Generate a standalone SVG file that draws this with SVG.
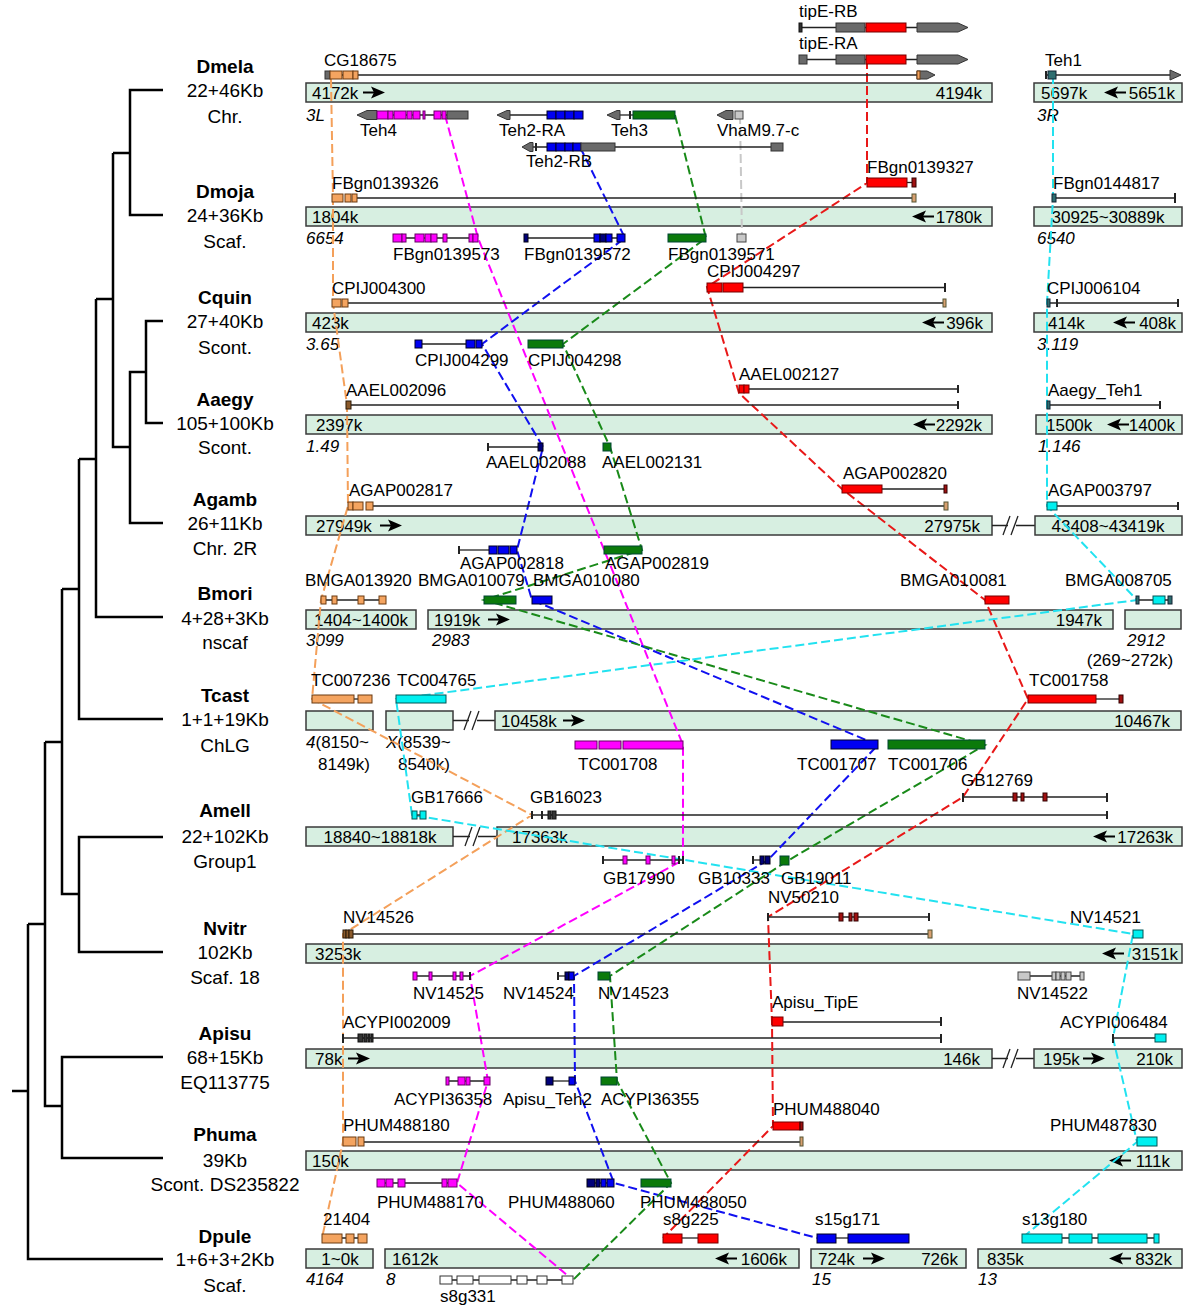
<svg xmlns="http://www.w3.org/2000/svg" width="1200" height="1310" viewBox="0 0 1200 1310">
<style>
.t{font-family:"Liberation Sans",Arial,sans-serif;font-size:17px;fill:#000}
.it{font-style:italic}
.e{text-anchor:end}
.m{text-anchor:middle}
.sp{font-size:19px;text-anchor:middle}
.b{font-weight:bold}
.bar{fill:#d7efe1;stroke:#3a3a3a;stroke-width:1.5}
.ln{stroke:#222;stroke-width:1.3;fill:none}
.tk{stroke:#222;stroke-width:2;fill:none}
.tree{stroke:#000;stroke-width:2.5;fill:none}
rect,polygon{stroke-width:1}
.gy{fill:#6a6a6a;stroke:#333}
.rd{fill:#f00;stroke:#700}
.gn{fill:#0b7a0b;stroke:#043}
.bl{fill:#0000f2;stroke:#002}
.nv{fill:#00007a;stroke:#001}
.mg{fill:#f0f;stroke:#606}
.or{fill:#f4a460;stroke:#6b3a10}
.cy{fill:#00f0f0;stroke:#055}
.dt{fill:#2e6e70;stroke:#123}
.dr{fill:#a01010;stroke:#300}
.br{fill:#8b5a2b;stroke:#2a1a08}
.tn{fill:#d8a070;stroke:#553}
.lg{fill:#c8c8c8;stroke:#444}
.wh{fill:#fff;stroke:#333}
.dk{fill:#333;stroke:#111}
.c{fill:none;stroke-width:2;stroke-dasharray:9,4}
</style>
<defs>
<g id="ra"><path d="M0,0 H14" stroke="#000" stroke-width="2"/><path d="M22,0 L8,-6 L11,0 L8,6 Z" fill="#000"/></g>
<g id="la"><path d="M8,0 H22" stroke="#000" stroke-width="2"/><path d="M0,0 L14,-6 L11,0 L14,6 Z" fill="#000"/></g>
</defs>

<g id="tree">
<path class="tree" d="M163,90 H130 V215 H163 M130,153 H113 M113,153 V447 H130 M163,321 H146 V423 H163 M146,372 H130 V523 H163 M96,299 H113 M96,299 V617 H163 M79,459 H96 M79,459 V719 H163 M62,589 H79 M62,589 V894 H79 M163,837 H79 V952 H163 M45,742 H62 M45,742 V1106 H62 M163,1057 H62 V1158 H163 M28,924 H45 M28,924 V1259 H163 M12,1091 H28"/>
</g>

<g id="species">
<text class="t sp b" x="225" y="73">Dmela</text><text class="t sp" x="225" y="97">22+46Kb</text><text class="t sp" x="225" y="123">Chr.</text>
<text class="t sp b" x="225" y="198">Dmoja</text><text class="t sp" x="225" y="222">24+36Kb</text><text class="t sp" x="225" y="248">Scaf.</text>
<text class="t sp b" x="225" y="304">Cquin</text><text class="t sp" x="225" y="328">27+40Kb</text><text class="t sp" x="225" y="354">Scont.</text>
<text class="t sp b" x="225" y="406">Aaegy</text><text class="t sp" x="225" y="430">105+100Kb</text><text class="t sp" x="225" y="454">Scont.</text>
<text class="t sp b" x="225" y="506">Agamb</text><text class="t sp" x="225" y="530">26+11Kb</text><text class="t sp" x="225" y="555">Chr. 2R</text>
<text class="t sp b" x="225" y="600">Bmori</text><text class="t sp" x="225" y="625">4+28+3Kb</text><text class="t sp" x="225" y="649">nscaf</text>
<text class="t sp b" x="225" y="702">Tcast</text><text class="t sp" x="225" y="726">1+1+19Kb</text><text class="t sp" x="225" y="752">ChLG</text>
<text class="t sp b" x="225" y="817">Amell</text><text class="t sp" x="225" y="843">22+102Kb</text><text class="t sp" x="225" y="868">Group1</text>
<text class="t sp b" x="225" y="935">Nvitr</text><text class="t sp" x="225" y="959">102Kb</text><text class="t sp" x="225" y="984">Scaf. 18</text>
<text class="t sp b" x="225" y="1040">Apisu</text><text class="t sp" x="225" y="1064">68+15Kb</text><text class="t sp" x="225" y="1089">EQ113775</text>
<text class="t sp b" x="225" y="1141">Phuma</text><text class="t sp" x="225" y="1167">39Kb</text><text class="t sp" x="225" y="1191">Scont. DS235822</text>
<text class="t sp b" x="225" y="1243">Dpule</text><text class="t sp" x="225" y="1266">1+6+3+2Kb</text><text class="t sp" x="225" y="1292">Scaf.</text>
</g>

<g id="bars">
<rect class="bar" x="306" y="83" width="686" height="19"/><text class="t" x="312" y="99">4172k</text><use href="#ra" x="363" y="92.5"/><text class="t e" x="982" y="99">4194k</text>
<rect class="bar" x="1034" y="83" width="148" height="19"/><text class="t" x="1041" y="99">5697k</text><use href="#la" x="1104" y="92.5"/><text class="t e" x="1175" y="99">5651k</text>
<text class="t it" x="306" y="121">3L</text><text class="t it" x="1037" y="121">3R</text>

<rect class="bar" x="306" y="207" width="686" height="19"/><text class="t" x="312" y="223">1804k</text><use href="#la" x="912" y="216.5"/><text class="t e" x="982" y="223">1780k</text>
<rect class="bar" x="1034" y="207" width="148" height="19"/><text class="t m" x="1108" y="223">30925~30889k</text>
<text class="t it" x="306" y="244">6654</text><text class="t it" x="1037" y="244">6540</text>

<rect class="bar" x="306" y="313" width="686" height="19"/><text class="t" x="312" y="329">423k</text><use href="#la" x="922" y="322.5"/><text class="t e" x="983" y="329">396k</text>
<rect class="bar" x="1034" y="313" width="148" height="19"/><text class="t" x="1048" y="329">414k</text><use href="#la" x="1113" y="322.5"/><text class="t e" x="1176" y="329">408k</text>
<text class="t it" x="306" y="350">3.65</text><text class="t it" x="1037" y="350">3.119</text>

<rect class="bar" x="306" y="415" width="686" height="19"/><text class="t" x="316" y="431">2397k</text><use href="#la" x="913" y="424.5"/><text class="t e" x="982" y="431">2292k</text>
<rect class="bar" x="1036" y="415" width="146" height="19"/><text class="t" x="1046" y="431">1500k</text><use href="#la" x="1107" y="424.5"/><text class="t e" x="1175" y="431">1400k</text>
<text class="t it" x="306" y="452">1.49</text><text class="t it" x="1038" y="452">1.146</text>

<rect class="bar" x="306" y="516" width="686" height="19"/><text class="t" x="316" y="532">27949k</text><use href="#ra" x="380" y="525.5"/><text class="t e" x="980" y="532">27975k</text>
<path class="ln" d="M992,525.5 H1008 M1016,525.5 H1035 M1003,535 L1010,516 M1011,535 L1018,516"/>
<rect class="bar" x="1035" y="516" width="147" height="19"/><text class="t m" x="1108" y="532">43408~43419k</text>

<rect class="bar" x="306" y="610" width="110" height="19"/><text class="t m" x="361" y="626">1404~1400k</text>
<rect class="bar" x="428" y="610" width="685" height="19"/><text class="t" x="434" y="626">1919k</text><use href="#ra" x="488" y="619.5"/><text class="t e" x="1102" y="626">1947k</text>
<rect class="bar" x="1125" y="610" width="56" height="19"/>
<text class="t it" x="306" y="646">3099</text><text class="t it" x="432" y="646">2983</text><text class="t it m" x="1146" y="646">2912</text><text class="t m" x="1130" y="666">(269~272k)</text>

<rect class="bar" x="306" y="711" width="67" height="19"/><rect class="bar" x="386" y="711" width="67" height="19"/>
<path class="ln" d="M453,720.5 H469 M477,720.5 H495 M464,730 L471,711 M472,730 L479,711"/>
<rect class="bar" x="495" y="711" width="686" height="19"/><text class="t" x="501" y="727">10458k</text><use href="#ra" x="563" y="720.5"/><text class="t e" x="1170" y="727">10467k</text>
<text class="t" x="306" y="748"><tspan class="it">4</tspan>(8150~</text><text class="t" x="318" y="770">8149k)</text>
<text class="t" x="386" y="748"><tspan class="it">X</tspan>(8539~</text><text class="t" x="398" y="770">8540k)</text>

<rect class="bar" x="306" y="827" width="147" height="19"/><text class="t m" x="380" y="843">18840~18818k</text>
<path class="ln" d="M453,836.5 H470 M478,836.5 H497 M465,846 L472,827 M473,846 L480,827"/>
<rect class="bar" x="497" y="827" width="685" height="19"/><text class="t" x="512" y="843">17363k</text><use href="#la" x="1093" y="836.5"/><text class="t e" x="1173" y="843">17263k</text>

<rect class="bar" x="306" y="944" width="876" height="19"/><text class="t" x="315" y="960">3253k</text><use href="#la" x="1102" y="953.5"/><text class="t e" x="1178" y="960">3151k</text>

<rect class="bar" x="306" y="1049" width="686" height="19"/><text class="t" x="315" y="1065">78k</text><use href="#ra" x="348" y="1058.5"/><text class="t e" x="980" y="1065">146k</text>
<path class="ln" d="M992,1058.5 H1008 M1016,1058.5 H1034 M1003,1068 L1010,1049 M1011,1068 L1018,1049"/>
<rect class="bar" x="1034" y="1049" width="148" height="19"/><text class="t" x="1043" y="1065">195k</text><use href="#ra" x="1083" y="1058.5"/><text class="t e" x="1173" y="1065">210k</text>

<rect class="bar" x="306" y="1151" width="876" height="19"/><text class="t" x="312" y="1167">150k</text><use href="#la" x="1109" y="1160.5"/><text class="t e" x="1170" y="1167">111k</text>

<rect class="bar" x="306" y="1249" width="67" height="19"/><text class="t m" x="340" y="1265">1~0k</text>
<rect class="bar" x="385" y="1249" width="414" height="19"/><text class="t" x="392" y="1265">1612k</text><use href="#la" x="715" y="1258.5"/><text class="t e" x="787" y="1265">1606k</text>
<rect class="bar" x="811" y="1249" width="155" height="19"/><text class="t" x="818" y="1265">724k</text><use href="#ra" x="863" y="1258.5"/><text class="t e" x="958" y="1265">726k</text>
<rect class="bar" x="978" y="1249" width="204" height="19"/><text class="t" x="987" y="1265">835k</text><use href="#la" x="1109" y="1258.5"/><text class="t e" x="1172" y="1265">832k</text>
<text class="t it" x="306" y="1285">4164</text><text class="t it" x="386" y="1285">8</text><text class="t it" x="812" y="1285">15</text><text class="t it" x="978" y="1285">13</text>
</g>

<g id="connectors">
<polyline class="c" stroke="#c8c8c8" points="740,115 742,238"/>
<polyline class="c" stroke="#f4a05a" points="331,79 333,197 333,303 347,405 348,506 321,600 312,699 532,815 343,934 343,1038 343,1142 322,1238"/>
<polyline class="c" stroke="#f0f" points="445,115 478,238 683,745 683,860 470,976 488,1081 457,1183 573,1280"/>
<polyline class="c" stroke="#1010f0" points="580,147 625,238 482,344 543,447 517,550 532,600 878,745 768,860 574,976 575,1081 614,1183 817,1238"/>
<polyline class="c" stroke="#198a19" points="675,115 706,238 563,344 610,447 642,550 484,600 985,745 789,860 610,976 617,1081 671,1183 573,1280"/>
<polyline class="c" stroke="#e81818" points="867,60 867,183 707,287 739,393 842,489 985,600 1028,699 963,797 768,917 772,1022 773,1126 663,1238"/>
<polyline class="c" stroke="#22e2f0" points="1053,75 1053,198 1047,303 1047,405 1047,506 1137,600 396,699 412,815 1133,934 1113,1038 1137,1142 1022,1238"/>
</g>

<g id="tipE-RB"><text class="t" x="799" y="17">tipE-RB</text><path class="ln" d="M802,27.5 H917"/><rect class="dk" x="799" y="23" width="3" height="9"/><rect class="gy" x="836" y="23" width="29" height="9"/><rect class="rd" x="866" y="23" width="40" height="9"/><polygon class="gy" points="917,23 958,23 968,27.5 958,32 917,32"/></g>
<g id="tipE-RA"><text class="t" x="799" y="49">tipE-RA</text><path class="ln" d="M807,59.5 H917"/><rect class="gy" x="799" y="55" width="8" height="9"/><rect class="gy" x="836" y="55" width="29" height="9"/><rect class="rd" x="866" y="55" width="40" height="9"/><polygon class="gy" points="917,55 958,55 968,59.5 958,64 917,64"/></g>
<g id="CG18675"><text class="t" x="324" y="66">CG18675</text><path class="ln" d="M330,75 H917"/><rect class="gy" x="325" y="71" width="5" height="8"/><rect class="or" x="330" y="71" width="12" height="8"/><rect class="or" x="343" y="71" width="10" height="8"/><rect class="or" x="353" y="71" width="5" height="8"/><polygon class="gy" points="917,71 927,71 935,75 927,79 917,79"/><rect class="or" x="917" y="71" width="3" height="8"/></g>
<g id="Teh1"><text class="t" x="1045" y="66">Teh1</text><path class="ln" d="M1046,75 H1172"/><path class="tk" d="M1046,71 V79"/><rect class="dt" x="1048" y="71" width="8" height="8"/><polygon class="gy" points="1170,70 1181,75 1170,80"/></g>
<g id="Teh4"><text class="t" x="360" y="136">Teh4</text><path class="ln" d="M377,115 H468"/><polygon class="gy" points="357,115 367,110.5 377,110.5 377,119.5 367,119.5"/><rect class="mg" x="377" y="111" width="11" height="8"/><rect class="mg" x="388" y="111" width="5" height="8"/><rect class="mg" x="394" y="111" width="12" height="8"/><rect class="mg" x="407" y="111" width="5" height="8"/><rect class="mg" x="413" y="111" width="7" height="8"/><rect class="mg" x="423" y="111" width="2" height="8"/><rect class="mg" x="434" y="111" width="7" height="8"/><rect class="mg" x="442" y="111" width="4" height="8"/><rect class="gy" x="447" y="111" width="21" height="8"/></g>
<g id="Teh2-RA"><text class="t" x="499" y="136">Teh2-RA</text><path class="ln" d="M510,115 H547"/><polygon class="gy" points="497,115 507,110.5 510,110.5 510,119.5 507,119.5"/><rect class="bl" x="547" y="111" width="9" height="8"/><rect class="bl" x="556" y="111" width="9" height="8"/><rect class="bl" x="565" y="111" width="9" height="8"/><rect class="bl" x="574" y="111" width="9" height="8"/></g>
<g id="Teh3"><text class="t" x="611" y="136">Teh3</text><path class="ln" d="M620,115 H633"/><polygon class="gy" points="607,115 617,110.5 620,110.5 620,119.5 617,119.5"/><path class="tk" d="M630,111 V119"/><rect class="gn" x="633" y="111" width="42" height="8"/></g>
<g id="VhaM9.7-c"><text class="t" x="717" y="136">VhaM9.7-c</text><polygon class="gy" points="717,115 726,110.5 733,110.5 733,119.5 726,119.5"/><rect class="lg" x="735" y="111" width="8" height="8"/></g>
<g id="Teh2-RB"><text class="t" x="526" y="167">Teh2-RB</text><path class="ln" d="M533,147 H771"/><polygon class="gy" points="522,147 530,142.5 533,142.5 533,151.5 530,151.5"/><path class="tk" d="M536,143 V151"/><rect class="bl" x="547" y="143" width="9" height="8"/><rect class="bl" x="556" y="143" width="9" height="8"/><rect class="bl" x="565" y="143" width="8" height="8"/><rect class="bl" x="573" y="143" width="8" height="8"/><rect class="gy" x="581" y="143" width="34" height="8"/><rect class="gy" x="771" y="143" width="12" height="8"/></g>

<g id="FBgn0139326"><text class="t" x="332" y="189">FBgn0139326</text><path class="ln" d="M357,198 H913"/><rect class="or" x="332" y="194" width="11" height="8"/><rect class="or" x="345" y="194" width="6" height="8"/><rect class="or" x="352" y="194" width="5" height="8"/><rect class="tn" x="912" y="194" width="4" height="8"/></g>
<g id="FBgn0139327"><text class="t" x="867" y="173">FBgn0139327</text><path class="ln" d="M907,182.5 H912"/><rect class="rd" x="867" y="178" width="40" height="9"/><rect class="dr" x="912" y="178" width="4" height="9"/></g>
<g id="FBgn0144817"><text class="t" x="1053" y="189">FBgn0144817</text><path class="ln" d="M1056,198 H1175"/><rect class="dt" x="1052" y="194" width="4" height="8"/><path class="tk" d="M1175,193 V203"/></g>
<g id="FBgn0139573"><text class="t" x="393" y="260">FBgn0139573</text><path class="ln" d="M393,238 H478"/><rect class="mg" x="393" y="234" width="9" height="8"/><rect class="mg" x="402" y="234" width="4" height="8"/><rect class="mg" x="415" y="234" width="9" height="8"/><rect class="mg" x="425" y="234" width="6" height="8"/><rect class="mg" x="431" y="234" width="6" height="8"/><rect class="mg" x="443" y="234" width="4" height="8"/><rect class="mg" x="469" y="234" width="4" height="8"/><rect class="mg" x="473" y="234" width="5" height="8"/></g>
<g id="FBgn0139572"><text class="t" x="524" y="260">FBgn0139572</text><path class="ln" d="M524,238 H625"/><rect class="nv" x="524" y="234" width="4" height="8"/><rect class="bl" x="594" y="234" width="6" height="8"/><rect class="nv" x="600" y="234" width="6" height="8"/><rect class="bl" x="606" y="234" width="6" height="8"/><rect class="bl" x="617" y="234" width="8" height="8"/></g>
<g id="FBgn0139571"><text class="t" x="668" y="260">FBgn0139571</text><rect class="gn" x="668" y="234" width="38" height="8"/><rect class="lg" x="737" y="234" width="9" height="8"/></g>

<g id="CPIJ004300"><text class="t" x="332" y="294">CPIJ004300</text><path class="ln" d="M348,303 H943"/><rect class="or" x="332" y="299" width="9" height="8"/><rect class="or" x="342" y="299" width="6" height="8"/><rect class="tn" x="943" y="299" width="3" height="8"/></g>
<g id="CPIJ004297"><text class="t" x="707" y="277">CPIJ004297</text><path class="ln" d="M743,287.5 H945"/><rect class="rd" x="707" y="283" width="15" height="9"/><rect class="rd" x="723" y="283" width="20" height="9"/><path class="tk" d="M945,283 V292"/></g>
<g id="CPIJ006104"><text class="t" x="1047" y="294">CPIJ006104</text><path class="ln" d="M1050,303 H1178"/><rect class="dt" x="1047" y="299" width="3" height="8"/><path class="tk" d="M1057,299 V307 M1178,299 V307"/></g>
<g id="CPIJ004299"><text class="t" x="415" y="366">CPIJ004299</text><path class="ln" d="M422,344 H466"/><rect class="bl" x="415" y="340" width="7" height="8"/><rect class="bl" x="466" y="340" width="9" height="8"/><rect class="bl" x="476" y="340" width="6" height="8"/></g>
<g id="CPIJ004298"><text class="t" x="528" y="366">CPIJ004298</text><rect class="gn" x="528" y="340" width="35" height="8"/></g>

<g id="AAEL002096"><text class="t" x="346" y="396">AAEL002096</text><path class="ln" d="M351,405 H958"/><rect class="br" x="346" y="401" width="5" height="8"/><path class="tk" d="M958,401 V409"/></g>
<g id="AAEL002127"><text class="t" x="739" y="380">AAEL002127</text><path class="ln" d="M749,389 H958"/><rect class="rd" x="739" y="385" width="5" height="8"/><rect class="rd" x="744" y="385" width="5" height="8"/><path class="tk" d="M958,385 V393"/></g>
<g id="Aaegy_Teh1"><text class="t" x="1048" y="396">Aaegy_Teh1</text><path class="ln" d="M1050,405 H1160"/><rect class="dt" x="1047" y="401" width="3" height="8"/><path class="tk" d="M1160,401 V409"/></g>
<g id="AAEL002088"><text class="t" x="486" y="468">AAEL002088</text><path class="ln" d="M488,447 H538"/><path class="tk" d="M488,443 V451"/><rect class="nv" x="538" y="443" width="5" height="8"/></g>
<g id="AAEL002131"><text class="t" x="602" y="468">AAEL002131</text><rect class="gn" x="603" y="443" width="8" height="8"/></g>

<g id="AGAP002817"><text class="t" x="349" y="496">AGAP002817</text><path class="ln" d="M373,506 H944"/><rect class="or" x="348" y="502" width="5" height="8"/><rect class="or" x="353" y="502" width="10" height="8"/><rect class="or" x="366" y="502" width="7" height="8"/><rect class="tn" x="944" y="502" width="4" height="8"/></g>
<g id="AGAP002820"><text class="t" x="843" y="479">AGAP002820</text><path class="ln" d="M882,489 H944"/><rect class="rd" x="842" y="485" width="40" height="8"/><rect class="dr" x="944" y="485" width="3" height="8"/></g>
<g id="AGAP003797"><text class="t" x="1048" y="496">AGAP003797</text><path class="ln" d="M1057,506 H1178"/><rect class="cy" x="1047" y="502" width="10" height="8"/><path class="tk" d="M1178,502 V510"/></g>
<g id="AGAP002818"><text class="t" x="460" y="569">AGAP002818</text><path class="ln" d="M459,550 H489"/><path class="tk" d="M459,546 V554"/><rect class="bl" x="489" y="546" width="8" height="8"/><rect class="bl" x="498" y="546" width="11" height="8"/><rect class="bl" x="510" y="546" width="7" height="8"/></g>
<g id="AGAP002819"><text class="t" x="605" y="569">AGAP002819</text><rect class="gn" x="604" y="546" width="38" height="8"/></g>

<g id="BMGA013920"><text class="t" x="305" y="586">BMGA013920</text><path class="ln" d="M321,600 H386"/><rect class="or" x="321" y="596" width="5" height="8"/><rect class="or" x="332" y="596" width="5" height="8"/><rect class="or" x="358" y="596" width="6" height="8"/><rect class="or" x="379" y="596" width="7" height="8"/></g>
<g id="BMGA010079"><text class="t" x="418" y="586">BMGA010079</text><rect class="gn" x="484" y="596" width="32" height="8"/></g>
<g id="BMGA010080"><text class="t" x="533" y="586">BMGA010080</text><rect class="bl" x="532" y="596" width="20" height="8"/></g>
<g id="BMGA010081"><text class="t" x="900" y="586">BMGA010081</text><rect class="rd" x="985" y="596" width="24" height="8"/></g>
<g id="BMGA008705"><text class="t" x="1065" y="586">BMGA008705</text><path class="ln" d="M1136,600 H1172"/><rect class="dt" x="1136" y="596" width="3" height="8"/><rect class="cy" x="1153" y="596" width="12" height="8"/><rect class="dt" x="1168" y="596" width="4" height="8"/></g>

<g id="TC007236"><text class="t" x="311" y="686">TC007236</text><path class="ln" d="M354,699 H358"/><rect class="or" x="312" y="695" width="42" height="8"/><rect class="or" x="358" y="695" width="14" height="8"/></g>
<g id="TC004765"><text class="t" x="397" y="686">TC004765</text><rect class="cy" x="396" y="695" width="50" height="8"/></g>
<g id="TC001758"><text class="t" x="1029" y="686">TC001758</text><path class="ln" d="M1096,699 H1119"/><rect class="rd" x="1028" y="695" width="68" height="8"/><rect class="dr" x="1119" y="695" width="4" height="8"/></g>
<g id="TC001708"><text class="t" x="578" y="770">TC001708</text><rect class="mg" x="575" y="741" width="22" height="8"/><rect class="mg" x="599" y="741" width="22" height="8"/><rect class="mg" x="623" y="741" width="60" height="8"/></g>
<g id="TC001707"><text class="t" x="797" y="770">TC001707</text><rect class="bl" x="831" y="740" width="47" height="9"/></g>
<g id="TC001706"><text class="t" x="888" y="770">TC001706</text><rect class="gn" x="888" y="740" width="97" height="9"/></g>

<g id="GB17666"><text class="t" x="411" y="803">GB17666</text><path class="ln" d="M417,815 H420"/><rect class="cy" x="412" y="811" width="5" height="8"/><rect class="cy" x="420" y="811" width="6" height="8"/></g>
<g id="GB16023"><text class="t" x="530" y="803">GB16023</text><path class="ln" d="M532,815 H1107"/><path class="tk" d="M532,811 V819 M542,811 V819 M1107,811 V819"/><rect class="dk" x="548" y="811" width="3" height="8"/><rect class="dk" x="552" y="811" width="4" height="8"/></g>
<g id="GB12769"><text class="t" x="961" y="786">GB12769</text><path class="ln" d="M963,797 H1107"/><path class="tk" d="M963,793 V802 M1107,793 V802"/><rect class="dr" x="1013" y="793" width="4" height="8"/><rect class="dr" x="1021" y="793" width="3" height="8"/><rect class="dr" x="1043" y="793" width="4" height="8"/></g>
<g id="GB17990"><text class="t" x="603" y="884">GB17990</text><path class="ln" d="M603,860 H683"/><path class="tk" d="M603,856 V864 M679,856 V864 M683,856 V864"/><rect class="mg" x="623" y="856" width="4" height="8"/><rect class="mg" x="646" y="856" width="4" height="8"/><rect class="mg" x="672" y="856" width="3" height="8"/></g>
<g id="GB10333"><text class="t" x="698" y="884">GB10333</text><path class="ln" d="M753,860 H760"/><path class="tk" d="M753,856 V864"/><rect class="nv" x="760" y="856" width="4" height="8"/><rect class="nv" x="765" y="856" width="5" height="8"/></g>
<g id="GB19011"><text class="t" x="781" y="884">GB19011</text><rect class="gn" x="780" y="856" width="9" height="9"/></g>

<g id="NV14526"><text class="t" x="343" y="923">NV14526</text><path class="ln" d="M353,934 H928"/><rect class="br" x="343" y="930" width="3" height="8"/><rect class="br" x="346" y="930" width="3" height="8"/><rect class="br" x="349" y="930" width="4" height="8"/><rect class="tn" x="928" y="930" width="4" height="8"/></g>
<g id="NV50210"><text class="t" x="768" y="903">NV50210</text><path class="ln" d="M768,917 H929"/><path class="tk" d="M768,913 V921 M929,913 V921"/><rect class="dr" x="839" y="913" width="4" height="8"/><rect class="dr" x="849" y="913" width="3" height="8"/><rect class="dr" x="854" y="913" width="4" height="8"/></g>
<g id="NV14521"><text class="t" x="1070" y="923">NV14521</text><rect class="cy" x="1133" y="930" width="10" height="8"/></g>
<g id="NV14525"><text class="t" x="413" y="999">NV14525</text><path class="ln" d="M413,976 H470"/><rect class="mg" x="413" y="972" width="4" height="8"/><rect class="mg" x="429" y="972" width="3" height="8"/><rect class="mg" x="453" y="972" width="3" height="8"/><rect class="mg" x="460" y="972" width="3" height="8"/><path class="tk" d="M470,972 V980"/></g>
<g id="NV14524"><text class="t" x="503" y="999">NV14524</text><path class="ln" d="M558,976 H565"/><path class="tk" d="M558,972 V980"/><rect class="nv" x="565" y="972" width="4" height="8"/><rect class="bl" x="569" y="972" width="5" height="8"/></g>
<g id="NV14523"><text class="t" x="598" y="999">NV14523</text><rect class="gn" x="598" y="972" width="12" height="8"/></g>
<g id="NV14522"><text class="t" x="1017" y="999">NV14522</text><path class="ln" d="M1030,976 H1080"/><rect class="lg" x="1018" y="972" width="12" height="8"/><rect class="lg" x="1052" y="972" width="4" height="8"/><rect class="lg" x="1056" y="972" width="4" height="8"/><rect class="lg" x="1061" y="972" width="4" height="8"/><rect class="lg" x="1066" y="972" width="5" height="8"/><rect class="lg" x="1080" y="972" width="4" height="8"/></g>

<g id="ACYPI002009"><text class="t" x="343" y="1028">ACYPI002009</text><path class="ln" d="M343,1038 H941"/><path class="tk" d="M343,1034 V1043 M941,1034 V1043"/><rect class="dk" x="358" y="1034" width="5" height="8"/><rect class="dk" x="364" y="1034" width="3" height="8"/><rect class="dk" x="368" y="1034" width="2" height="8"/><rect class="dk" x="371" y="1034" width="2" height="8"/></g>
<g id="Apisu_TipE"><text class="t" x="772" y="1008">Apisu_TipE</text><path class="ln" d="M783,1022 H941"/><rect class="rd" x="772" y="1017" width="11" height="9"/><path class="tk" d="M941,1017 V1026"/></g>
<g id="ACYPI006484"><text class="t" x="1060" y="1028">ACYPI006484</text><path class="ln" d="M1113,1038 H1155"/><path class="tk" d="M1113,1034 V1043"/><rect class="cy" x="1155" y="1034" width="11" height="8"/></g>
<g id="ACYPI36358"><text class="t" x="394" y="1105">ACYPI36358</text><path class="ln" d="M446,1081 H490"/><rect class="mg" x="446" y="1077" width="3" height="8"/><rect class="mg" x="458" y="1077" width="7" height="8"/><rect class="mg" x="466" y="1077" width="4" height="8"/><rect class="mg" x="484" y="1077" width="6" height="8"/></g>
<g id="Apisu_Teh2"><text class="t" x="503" y="1105">Apisu_Teh2</text><path class="ln" d="M553,1081 H569"/><rect class="nv" x="546" y="1077" width="7" height="8"/><rect class="bl" x="569" y="1077" width="6" height="8"/></g>
<g id="ACYPI36355"><text class="t" x="601" y="1105">ACYPI36355</text><rect class="gn" x="601" y="1077" width="16" height="8"/></g>

<g id="PHUM488180"><text class="t" x="343" y="1131">PHUM488180</text><path class="ln" d="M364,1142 H800"/><rect class="or" x="343" y="1137" width="13" height="9"/><rect class="or" x="358" y="1137" width="6" height="9"/><rect class="tn" x="800" y="1137" width="3" height="9"/></g>
<g id="PHUM488040"><text class="t" x="773" y="1115">PHUM488040</text><rect class="rd" x="773" y="1122" width="27" height="8"/><rect class="dr" x="800" y="1122" width="3" height="8"/></g>
<g id="PHUM487830"><text class="t" x="1050" y="1131">PHUM487830</text><rect class="cy" x="1137" y="1137" width="20" height="9"/></g>
<g id="PHUM488170"><text class="t" x="377" y="1208">PHUM488170</text><path class="ln" d="M377,1183 H457"/><rect class="mg" x="377" y="1179" width="8" height="8"/><rect class="mg" x="386" y="1179" width="7" height="8"/><rect class="mg" x="398" y="1179" width="7" height="8"/><rect class="mg" x="442" y="1179" width="5" height="8"/><rect class="mg" x="448" y="1179" width="9" height="8"/></g>
<g id="PHUM488060"><text class="t" x="508" y="1208">PHUM488060</text><path class="ln" d="M587,1183 H614"/><rect class="nv" x="587" y="1179" width="8" height="8"/><rect class="nv" x="596" y="1179" width="4" height="8"/><rect class="bl" x="601" y="1179" width="5" height="8"/><rect class="bl" x="607" y="1179" width="7" height="8"/></g>
<g id="PHUM488050"><text class="t" x="640" y="1208">PHUM488050</text><rect class="gn" x="641" y="1179" width="30" height="8"/></g>

<g id="g21404"><text class="t" x="323" y="1225">21404</text><path class="ln" d="M322,1238 H367"/><rect class="or" x="322" y="1234" width="20" height="9"/><rect class="or" x="346" y="1234" width="8" height="9"/><rect class="or" x="358" y="1234" width="9" height="9"/></g>
<g id="s8g225"><text class="t" x="663" y="1225">s8g225</text><path class="ln" d="M682,1238 H698"/><rect class="rd" x="663" y="1234" width="19" height="9"/><rect class="rd" x="698" y="1234" width="20" height="9"/></g>
<g id="s15g171"><text class="t" x="815" y="1225">s15g171</text><path class="ln" d="M836,1238 H848"/><rect class="bl" x="817" y="1234" width="19" height="9"/><rect class="bl" x="848" y="1234" width="61" height="9"/></g>
<g id="s13g180"><text class="t" x="1022" y="1225">s13g180</text><path class="ln" d="M1022,1238 H1159"/><rect class="cy" x="1022" y="1234" width="40" height="9"/><rect class="cy" x="1069" y="1234" width="23" height="9"/><rect class="cy" x="1098" y="1234" width="49" height="9"/><rect class="cy" x="1154" y="1234" width="5" height="9"/></g>
<g id="s8g331"><text class="t" x="440" y="1302">s8g331</text><path class="ln" d="M440,1280 H573"/><rect class="wh" x="440" y="1276" width="12" height="8"/><rect class="wh" x="457" y="1276" width="16" height="8"/><rect class="wh" x="479" y="1276" width="32" height="8"/><rect class="wh" x="517" y="1276" width="10" height="8"/><rect class="wh" x="537" y="1276" width="10" height="8"/><rect class="wh" x="562" y="1276" width="11" height="8"/></g>
</svg>
